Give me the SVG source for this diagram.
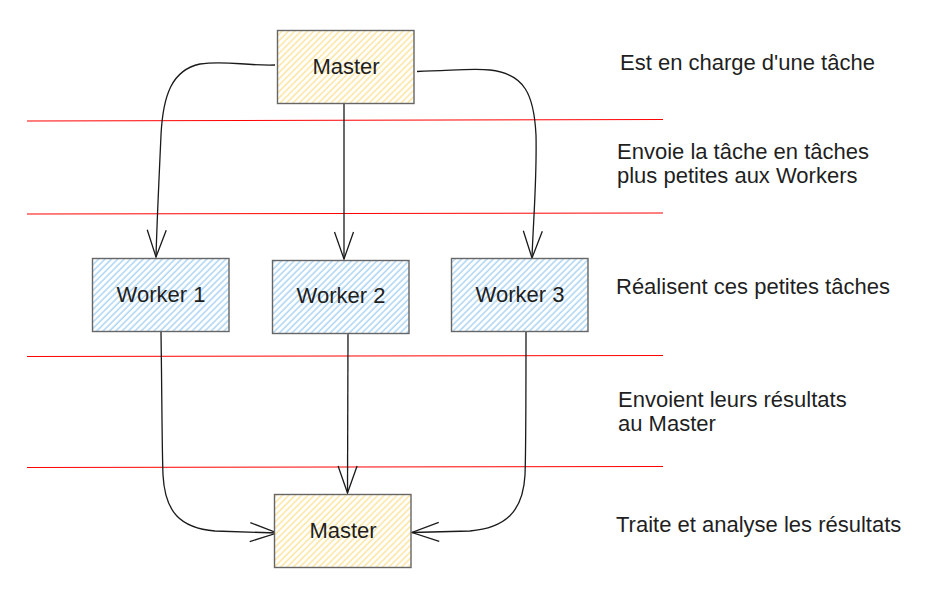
<svg xmlns="http://www.w3.org/2000/svg" width="952" height="594" viewBox="0 0 952 594">
  <defs>
    <pattern id="hatchY" patternUnits="userSpaceOnUse" width="4.5" height="4.5" patternTransform="rotate(45)">
      <rect width="4.5" height="4.5" fill="#ffffff"/>
      <line x1="1" y1="0" x2="1" y2="4.5" stroke="#fde7a6" stroke-width="1.6"/>
    </pattern>
    <pattern id="hatchB" patternUnits="userSpaceOnUse" width="4.5" height="4.5" patternTransform="rotate(45)">
      <rect width="4.5" height="4.5" fill="#ffffff"/>
      <line x1="1" y1="0" x2="1" y2="4.5" stroke="#b3d8f5" stroke-width="1.6"/>
    </pattern>
    <marker id="openArrow" viewBox="0 0 30 22" refX="28" refY="11" markerWidth="30" markerHeight="22" markerUnits="userSpaceOnUse" orient="auto">
      <path d="M1 1.5 L28 11 L1 20.5" fill="none" stroke="#1a1a1a" stroke-width="1.3"/>
    </marker>
  </defs>
  <style>
    .box { stroke: #666666; stroke-width: 1.4; }
    .master { fill: url(#hatchY); }
    .worker { fill: url(#hatchB); }
    .label { font-family: "Liberation Sans", Arial, sans-serif; font-size: 22px; fill: #1f1f1f; }
    .nodetext { font-family: "Liberation Sans", Arial, sans-serif; font-size: 22px; fill: #1f1f1f; text-anchor: middle; }
    .sep { stroke: #ff0000; stroke-width: 1; fill: none; }
    .edge { fill: none; stroke: #1a1a1a; stroke-width: 1.3; marker-end: url(#openArrow); }
  </style>
  <rect width="952" height="594" fill="#ffffff"/>

  <g id="separators">
    <path class="sep" d="M27 121 L663 119.5"/>
    <path class="sep" d="M27 214 L663 213"/>
    <path class="sep" d="M27 356.5 L663 355.5"/>
    <path class="sep" d="M27 467.5 L663 466.5"/>
  </g>

  <g id="connectors">
    <path class="edge" d="M275 65 C 245 66, 225 60, 200 64 C 172 70, 163 95, 161 135 C 159 180, 157 220, 156 257"/>
    <path class="edge" d="M344 104 L344 259"/>
    <path class="edge" d="M417 71.5 C 450 71, 470 68, 490 70 C 525 74, 534 95, 536 135 C 537 180, 533 225, 532 258"/>
    <path class="edge" d="M161 332 C 162 400, 162 450, 163 475 C 165 512, 180 528, 215 531 L 277 533"/>
    <path class="edge" d="M348 334 L347.5 493"/>
    <path class="edge" d="M526 332 C 526 400, 526 450, 525 475 C 523 512, 505 528, 470 531 L 412 532.5"/>
  </g>

  <g id="master-top">
    <rect class="box master" x="277.5" y="30.5" width="136.5" height="73"/>
    <text class="nodetext" x="346" y="74">Master</text>
  </g>
  <g id="worker-1">
    <rect class="box worker" x="92.5" y="258.5" width="136.5" height="73"/>
    <text class="nodetext" x="161" y="302">Worker 1</text>
  </g>
  <g id="worker-2">
    <rect class="box worker" x="272.5" y="260.5" width="136.5" height="73"/>
    <text class="nodetext" x="341" y="303">Worker 2</text>
  </g>
  <g id="worker-3">
    <rect class="box worker" x="451.5" y="258.5" width="136.5" height="73"/>
    <text class="nodetext" x="520" y="302">Worker 3</text>
  </g>
  <g id="master-bottom">
    <rect class="box master" x="274.5" y="494.5" width="136.5" height="73"/>
    <text class="nodetext" x="343" y="538">Master</text>
  </g>

  <g id="annotations">
    <text class="label" x="620" y="70">Est en charge d'une tâche</text>
    <text class="label" x="617" y="159">Envoie la tâche en tâches</text>
    <text class="label" x="617" y="183">plus petites aux Workers</text>
    <text class="label" x="616" y="294">Réalisent ces petites tâches</text>
    <text class="label" x="618" y="407">Envoient leurs résultats</text>
    <text class="label" x="618" y="431">au Master</text>
    <text class="label" x="616" y="532">Traite et analyse les résultats</text>
  </g>
</svg>
